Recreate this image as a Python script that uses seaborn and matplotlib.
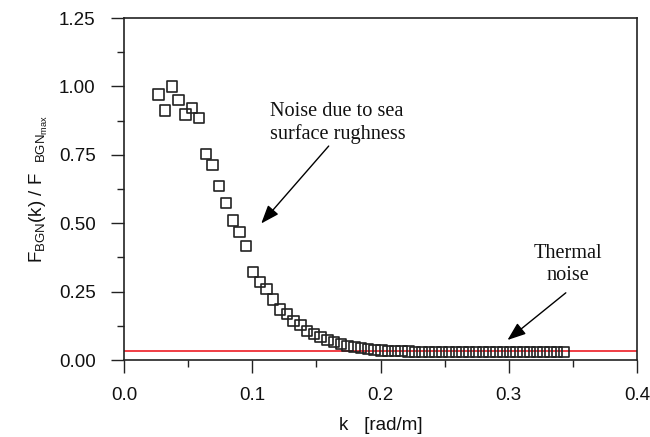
import numpy as np
import pandas as pd
import seaborn as sns
import matplotlib.pyplot as plt
from matplotlib.ticker import MultipleLocator

# wavenumber k [rad/m]
k = [0.0268, 0.0321, 0.0373, 0.0426, 0.0479, 0.0532, 0.0584, 0.0637, 0.0690, 0.0742,
     0.0795, 0.0848, 0.0900, 0.0953, 0.1006, 0.1059, 0.1111, 0.1164, 0.1217, 0.1269,
     0.1322, 0.1375, 0.1427, 0.1480, 0.1533, 0.1586, 0.1638, 0.1691, 0.1744, 0.1796,
     0.1849, 0.1902, 0.1954, 0.2007, 0.2060, 0.2113, 0.2165, 0.2218, 0.2271, 0.2323,
     0.2376, 0.2429, 0.2481, 0.2534, 0.2587, 0.2640, 0.2692, 0.2745, 0.2798, 0.2850,
     0.2903, 0.2956, 0.3008, 0.3061, 0.3114, 0.3167, 0.3219, 0.3272, 0.3325, 0.3377,
     0.3430]

# normalised background noise F_BGN(k) / F_BGN_max
f_bgn = [0.971, 0.912, 1.000, 0.950, 0.897, 0.922, 0.884, 0.753, 0.712, 0.635,
         0.573, 0.510, 0.467, 0.417, 0.321, 0.284, 0.260, 0.221, 0.185, 0.168,
         0.143, 0.127, 0.107, 0.094, 0.085, 0.073, 0.065, 0.058, 0.052, 0.047,
         0.043, 0.040, 0.037, 0.035, 0.034, 0.033, 0.032, 0.031, 0.030, 0.030,
         0.030, 0.030, 0.030, 0.030, 0.030, 0.030, 0.030, 0.030, 0.030, 0.030,
         0.030, 0.030, 0.029, 0.029, 0.029, 0.029, 0.029, 0.029, 0.029, 0.029,
         0.029]

# thermal noise level
thermal_level = 0.032

df = pd.DataFrame({'k': k, 'f': f_bgn})

sns.set_theme(style='ticks')
plt.rcParams['font.family'] = ['Liberation Sans', 'DejaVu Sans']
plt.rcParams['mathtext.fontset'] = 'custom'
plt.rcParams['mathtext.rm'] = 'Liberation Sans'
plt.rcParams['mathtext.it'] = 'Liberation Sans:italic'

fig = plt.figure(figsize=(6.5, 4.37), dpi=100)
ax = fig.add_axes([0.1908, 0.1762, 0.7892, 0.7826])

ax.axhline(thermal_level, color='#ee1c25', lw=1.2, zorder=1)
sns.scatterplot(data=df, x='k', y='f', ax=ax, marker='s', s=56,
                facecolors='none', edgecolors='#222222', linewidth=1.2, zorder=3)

ax.set_xlim(0, 0.4)
ax.set_ylim(0, 1.25)
ax.xaxis.set_minor_locator(MultipleLocator(0.05))
ax.yaxis.set_minor_locator(MultipleLocator(0.125))
ax.set_xticks([0, 0.1, 0.2, 0.3, 0.4])
ax.set_xticklabels(['0.0', '0.1', '0.2', '0.3', '0.4'])
ax.set_yticks([0, 0.25, 0.5, 0.75, 1.0, 1.25])
ax.set_yticklabels(['0.00', '0.25', '0.50', '0.75', '1.00', '1.25'])

ax.tick_params(which='major', direction='out', length=9.5, width=1.0, color='#222222',
               labelsize=13.5, labelcolor='#111111')
ax.tick_params(axis='y', which='major', pad=11)
ax.tick_params(axis='x', which='major', pad=10)
ax.tick_params(which='minor', direction='out', length=5, width=1.0, color='#222222')
ax.tick_params(top=False, right=False, which='both')

for side in ['left', 'bottom', 'right', 'top']:
    ax.spines[side].set_visible(True)
    ax.spines[side].set_color('#222222')
    ax.spines[side].set_linewidth(1.2)

ax.set_xlabel('k   [rad/m]', fontsize=13.5, labelpad=9, color='#111111')
ax.set_ylabel(r'F$_{\mathrm{BGN}}$(k) / F  $_{\mathrm{BGN}_{\mathrm{max}}}$',
              fontsize=13.5, labelpad=6, color='#111111')

arrow = dict(arrowstyle='-|>,head_length=0.8,head_width=0.3', color='black',
             lw=1.0, mutation_scale=14, shrinkA=0, shrinkB=0)

ax.annotate('', xy=(0.107, 0.499), xytext=(0.1596, 0.782), arrowprops=arrow)
ax.text(0.114, 0.942, 'Noise due to sea\nsurface rughness', family='Liberation Serif',
        fontsize=14.6, ha='left', va='top', linespacing=1.2, color='#111111')

ax.annotate('', xy=(0.299, 0.073), xytext=(0.3445, 0.2456), arrowprops=arrow)
ax.text(0.346, 0.425, 'Thermal\nnoise', family='Liberation Serif',
        fontsize=14.6, ha='center', va='top', linespacing=1.2, color='#111111')

fig.savefig('out.png', dpi=100)
